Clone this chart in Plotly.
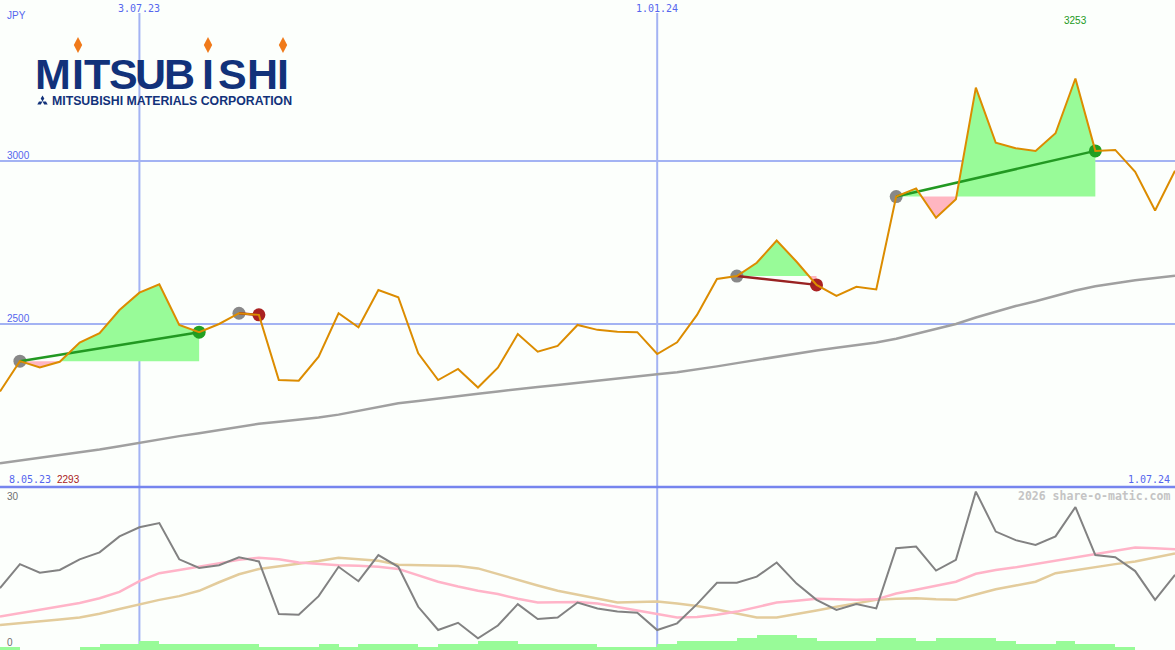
import math
import pandas as pd
import plotly.graph_objects as go

W, H = 1175, 650

# ---------------- data ----------------
dates = pd.date_range("2023-05-15", periods=60, freq="7D")

price = [2293, 2386, 2367, 2384, 2443, 2472, 2543, 2596, 2622, 2497,
         2475, 2500, 2533, 2528, 2328, 2326, 2400, 2533, 2490, 2604,
         2582, 2410, 2328, 2362, 2305, 2366, 2469, 2415, 2433, 2497,
         2482, 2476, 2475, 2408, 2444, 2528, 2638, 2647, 2688, 2756,
         2691, 2620, 2586, 2614, 2606, 2891, 2916, 2826, 2883, 3225,
         3056, 3039, 3031, 3085, 3253, 3031, 3034, 2967, 2848, 2970]

ma_long = [2073, 2081, 2090, 2098, 2106, 2115, 2125, 2136, 2146, 2156,
           2165, 2175, 2185, 2194, 2200, 2206, 2213, 2222, 2233, 2246,
           2257, 2264, 2272, 2279, 2286, 2293, 2301, 2307, 2313, 2320,
           2327, 2333, 2340, 2346, 2352, 2360, 2370, 2380, 2390, 2400,
           2410, 2419, 2427, 2435, 2443, 2455, 2470, 2485, 2500, 2520,
           2538, 2555, 2570, 2587, 2603, 2616, 2626, 2634, 2641, 2648]

osc = [11.6, 16.1, 14.5, 15.0, 17.0, 18.3, 21.3, 23.0, 23.8, 17.0,
       15.4, 15.9, 17.4, 16.6, 6.75, 6.6, 10.1, 15.6, 12.9, 17.8,
       15.6, 8.1, 3.75, 5.1, 2.2, 4.6, 8.6, 5.8, 6.1, 8.9,
       7.8, 7.2, 7.0, 3.75, 5.0, 8.6, 12.6, 12.6, 13.75, 16.4,
       12.45, 9.4, 7.5, 8.6, 7.8, 19.1, 19.4, 14.9, 16.9, 29.7,
       22.2, 20.6, 19.7, 21.3, 26.8, 17.8, 17.4, 14.8, 9.4, 14.1]

osc_fast = [6.3, 6.9, 7.5, 8.1, 8.8, 9.7, 10.9, 12.9, 14.4, 15.0,
            15.6, 16.2, 16.9, 17.3, 17.0, 16.4, 16.1, 15.9, 15.8, 15.6,
            15.2, 14.0, 12.8, 11.9, 11.1, 10.5, 9.6, 8.9, 9.0, 9.0,
            8.7, 8.1, 7.4, 6.75, 6.1, 6.2, 6.6, 7.2, 8.0, 8.9,
            9.25, 9.6, 9.5, 9.4, 9.5, 10.6, 11.3, 12.0, 12.8, 14.3,
            15.0, 15.5, 16.1, 16.7, 17.4, 18.0, 18.6, 19.2, 19.1, 18.9]

osc_slow = [4.7, 5.0, 5.3, 5.7, 6.1, 6.8, 7.7, 8.6, 9.4, 10.1,
            11.1, 12.7, 14.2, 15.2, 15.7, 16.1, 16.7, 17.3, 17.0, 16.75,
            16.0, 15.9, 15.8, 15.75, 15.3, 14.2, 13.1, 12.1, 11.1, 10.4,
            9.7, 8.9, 9.0, 9.1, 8.7, 8.25, 7.6, 6.9, 6.1, 6.1,
            6.7, 7.4, 8.1, 8.8, 9.4, 9.6, 9.7, 9.5, 9.4, 10.4,
            11.4, 12.1, 12.8, 14.4, 15.0, 15.6, 16.1, 16.6, 17.4, 18.1]

volume = [1, 0, 0, 0, 1, 2, 2, 3, 2, 2,
          2, 2, 2, 1, 1, 1, 2, 1, 2, 2,
          2, 1, 2, 2, 3, 3, 2, 2, 2, 2,
          1, 1, 1, 2, 3, 3, 3, 4, 5, 5,
          4, 3, 3, 3, 4, 4, 3, 4, 4, 4,
          3, 2, 2, 3, 2, 2, 1, 0, 0, 0]

trade_entry = [1, 12, 37, 45]
trade_exit = [10, 13, 41, 55]

grid_dates = ["2023-07-03", "2024-01-01"]
grid_labels = ["3.07.23", "1.01.24"]
price_grid = [2500, 3000]
first_label = "8.05.23"
last_label = "1.07.24"
currency = "JPY"
osc_labels = ["30", "0"]
credit = "2026 share-o-matic.com"

logo_letters = ["M", "I", "T", "S", "U", "B", "I", "S", "H", "I"]
logo_centers = [53, 78, 97, 123, 150, 179, 208, 232, 262, 283]
logo_sub = "MITSUBISHI MATERIALS CORPORATION"

# ---------------- styles ----------------
BG = "#fcfffc"
GRID = "#a3b3f3"
BLUE_TXT = "#5566ee"
ORANGE = "#dc8c00"
GREEN_FILL = "#98fb98"
PINK_FILL = "#ffb6c1"
NAVY = "#12327a"

SEP = 163 / H  # paper fraction of lower panel


def px(x):
    return x / W


def py(y):
    return 1 - y / H


def xdate(xf):
    return dates[0] + pd.Timedelta(days=7 * xf)


fig = go.Figure()

# ---- trade fills ----
for e, x in zip(trade_entry, trade_exit):
    L = price[e]
    polys = {"g": ([], []), "r": ([], [])}

    def add(key, pts):
        xs, ys = polys[key]
        for (a, b) in pts:
            xs.append(xdate(a))
            ys.append(b)
        xs.append(xdate(pts[0][0]))
        ys.append(pts[0][1])
        xs.append(None)
        ys.append(None)

    for i in range(e, x):
        d0, d1 = price[i] - L, price[i + 1] - L
        if d0 >= 0 and d1 >= 0:
            add("g", [(i, L), (i, price[i]), (i + 1, price[i + 1]), (i + 1, L)])
        elif d0 <= 0 and d1 <= 0:
            add("r", [(i, L), (i, price[i]), (i + 1, price[i + 1]), (i + 1, L)])
        else:
            t = d0 / (d0 - d1)
            xc = i + t
            k1 = "g" if d0 > 0 else "r"
            k2 = "r" if d0 > 0 else "g"
            add(k1, [(i, L), (i, price[i]), (xc, L)])
            add(k2, [(xc, L), (i + 1, price[i + 1]), (i + 1, L)])
    for key, col in (("g", GREEN_FILL), ("r", PINK_FILL)):
        xs, ys = polys[key]
        if xs:
            fig.add_trace(go.Scatter(x=xs, y=ys, mode="lines", fill="toself",
                                     fillcolor=col, line=dict(width=0, color="rgba(0,0,0,0)"),
                                     hoverinfo="skip", showlegend=False, yaxis="y"))

# ---- long moving average ----
fig.add_trace(go.Scatter(x=dates, y=ma_long, mode="lines",
                         line=dict(color="#a0a0a0", width=2.5), showlegend=False, yaxis="y"))

# ---- trade markers and lines ----
for e, x in zip(trade_entry, trade_exit):
    win = price[x] > price[e]
    fig.add_trace(go.Scatter(x=[dates[e]], y=[price[e]], mode="markers",
                             marker=dict(color="#888888", size=13), showlegend=False, yaxis="y"))
    fig.add_trace(go.Scatter(x=[dates[x]], y=[price[x]], mode="markers",
                             marker=dict(color="#22a022" if win else "#aa2222", size=13),
                             showlegend=False, yaxis="y"))
    fig.add_trace(go.Scatter(x=[dates[e], dates[x]], y=[price[e], price[x]], mode="lines",
                             line=dict(color="#229922" if win else "#992222", width=2.5),
                             showlegend=False, yaxis="y"))

# ---- price line ----
fig.add_trace(go.Scatter(x=dates, y=price, mode="lines",
                         line=dict(color=ORANGE, width=2), showlegend=False, yaxis="y"))

# ---- volume bars ----
fig.add_trace(go.Bar(x=dates, y=volume, width=7 * 24 * 3600 * 1000, offset=0,
                     marker=dict(color=GREEN_FILL, line=dict(width=0)),
                     showlegend=False, yaxis="y3"))

# ---- oscillator ----
fig.add_trace(go.Scatter(x=dates, y=osc_slow, mode="lines",
                         line=dict(color="#e3cc9c", width=2.5), showlegend=False, yaxis="y2"))
fig.add_trace(go.Scatter(x=dates, y=osc_fast, mode="lines",
                         line=dict(color="#ffb4c8", width=2.5), showlegend=False, yaxis="y2"))
fig.add_trace(go.Scatter(x=dates, y=osc, mode="lines",
                         line=dict(color="#828282", width=2), showlegend=False, yaxis="y2"))

# ---------------- shapes ----------------
shapes = []
for d in grid_dates:
    shapes.append(dict(type="line", xref="x", yref="paper", x0=d, x1=d,
                       y0=0, y1=py(13), line=dict(color=GRID, width=2), layer="below"))
shapes.append(dict(type="line", xref="paper", yref="paper", x0=0, x1=1, y0=SEP, y1=SEP,
                   line=dict(color="#7685ee", width=2.5), layer="above"))

# logo diamonds (orange) above the I's
for cx in (logo_centers[1], logo_centers[6], logo_centers[9]):
    cy = 45
    pts = [(cx, cy - 8), (cx + 4.2, cy), (cx, cy + 8), (cx - 4.2, cy)]
    path = "M " + " L ".join(f"{px(a):.5f},{py(b):.5f}" for a, b in pts) + " Z"
    shapes.append(dict(type="path", xref="paper", yref="paper", path=path,
                       fillcolor="#f07a1a", line=dict(width=0), layer="above"))

# small three-diamond mark
mcx, mcy = 42.5, 101.5
for ang in (90, 210, 330):
    a = math.radians(ang)
    ux, uy = math.cos(a), -math.sin(a)
    vx, vy = -uy, ux
    base = (mcx, mcy)
    tip = (mcx + ux * 6, mcy + uy * 6)
    mid = (mcx + ux * 3, mcy + uy * 3)
    side1 = (mid[0] + vx * 1.8, mid[1] + vy * 1.8)
    side2 = (mid[0] - vx * 1.8, mid[1] - vy * 1.8)
    pts = [base, side1, tip, side2]
    path = "M " + " L ".join(f"{px(p[0]):.5f},{py(p[1]):.5f}" for p in pts) + " Z"
    shapes.append(dict(type="path", xref="paper", yref="paper", path=path,
                       fillcolor=NAVY, line=dict(width=0), layer="above"))

# ---------------- annotations ----------------
SANS = "Liberation Sans, Arial, sans-serif"
MONO = "DejaVu Sans Mono, monospace"
ann = []


def text(x, y, s, color, size, family=SANS, xanchor="left", yanchor="middle", xref="paper", bold=False):
    ann.append(dict(x=x, y=y, xref=xref, yref="paper", text=f"<b>{s}</b>" if bold else s,
                    showarrow=False, xanchor=xanchor, yanchor=yanchor,
                    font=dict(color=color, size=size, family=family)))


text(px(5), py(15), currency, BLUE_TXT, 10)
for d, lab in zip(grid_dates, grid_labels):
    text(d, py(8), lab, BLUE_TXT, 10, family=MONO, xanchor="center", xref="x")
for v in price_grid:
    ypix = 161 + (3000 - v) * 0.326
    text(px(5), py(ypix - 6), str(v), BLUE_TXT, 10)

imax = price.index(max(price))
imin = price.index(min(price))
text(dates[imax], py(20), str(price[imax]), "#229922", 10, xanchor="center", xref="x")
text(px(7), py(479), first_label, BLUE_TXT, 10, family=MONO)
text(px(55), py(479), str(price[imin]), "#aa2222", 10)
text(px(1172), py(479), last_label, BLUE_TXT, 10, family=MONO, xanchor="right")
text(px(1172), py(496), credit, "#c4c4c4", 11.5, family=MONO, xanchor="right", bold=True)
text(px(5), py(496), osc_labels[0], "#707070", 10)
text(px(5), py(642), osc_labels[1], "#707070", 10)

LOGO_FONT = "Liberation Sans, Arial, sans-serif"
for ch, cx in zip(logo_letters, logo_centers):
    text(px(cx), py(74), f"<b>{ch}</b>", NAVY, 43, family=LOGO_FONT, xanchor="center")
text(px(50), py(101), f"<b>{logo_sub}</b>", NAVY, 12.3, family=LOGO_FONT)

# ---------------- layout ----------------
fig.update_layout(
    width=W, height=H,
    margin=dict(l=0, r=0, t=0, b=0),
    paper_bgcolor=BG, plot_bgcolor=BG,
    showlegend=False,
    bargap=0,
    xaxis=dict(type="date", range=[dates[0], dates[-1]], showgrid=False,
               showticklabels=False, zeroline=False, ticks="", showline=False),
    yaxis=dict(domain=[SEP, 1], range=[2000, 3000 + 161 / 0.326], tickvals=price_grid,
               showgrid=True, gridcolor=GRID, gridwidth=2, showticklabels=False,
               zeroline=False, ticks="", showline=False),
    yaxis2=dict(domain=[0, SEP], range=[0, 30 * 163 / 160], showgrid=False,
                showticklabels=False, zeroline=False, ticks="", showline=False),
    yaxis3=dict(domain=[0, SEP], overlaying="y2", range=[0, 163 / 3], showgrid=False,
                showticklabels=False, zeroline=False, ticks="", showline=False),
    shapes=shapes,
    annotations=ann,
)

fig.write_html("out.html",
               config={"displayModeBar": False},
               post_script="document.body.style.margin='0';document.body.style.padding='0';"
                           "document.body.style.overflow='hidden';"
                           "document.documentElement.style.background='" + BG + "';")
